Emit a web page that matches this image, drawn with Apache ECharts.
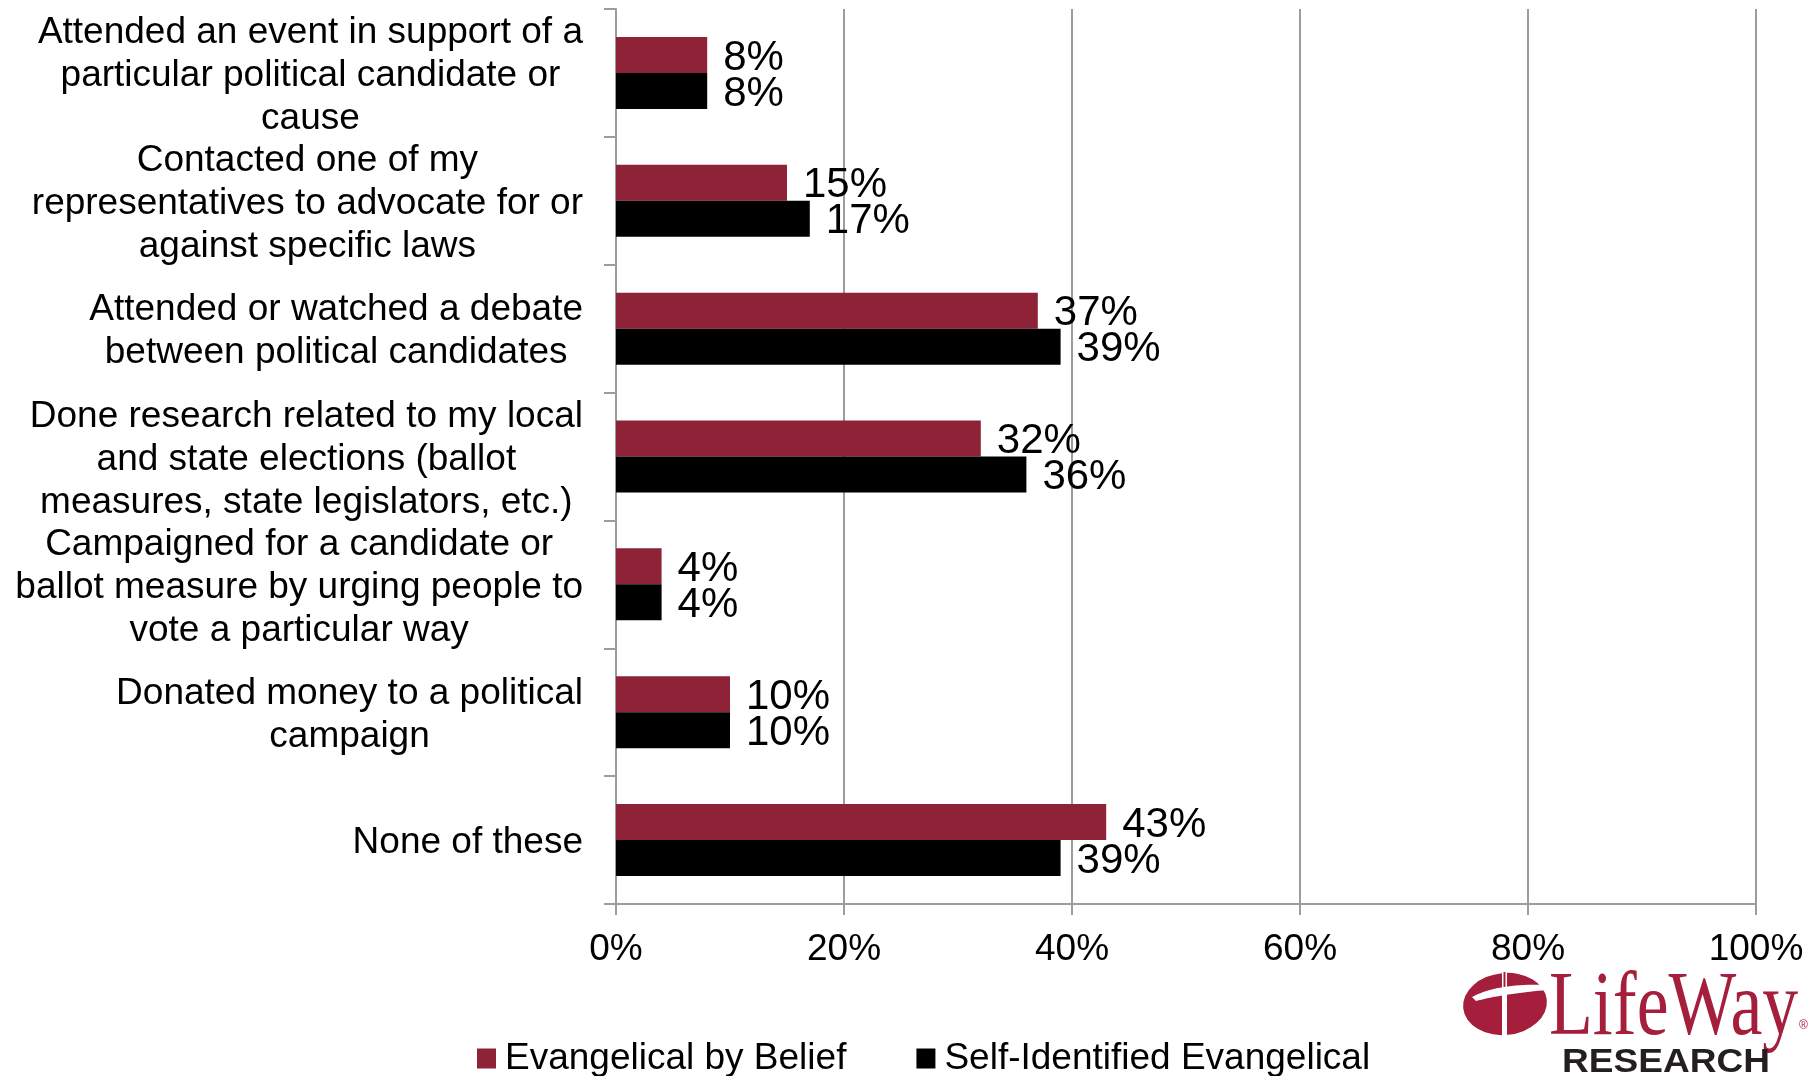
<!DOCTYPE html>
<html>
<head>
<meta charset="utf-8">
<title>Political activities</title>
<script src="https://cdn.jsdelivr.net/npm/echarts@6/dist/echarts.min.js"></script>
<style>
  html, body { margin: 0; padding: 0; background: #fff; }
  #chart { width: 1810px; height: 1076px; }
</style>
</head>
<body>
<div id="chart"></div>
<script>
// Survey items (line breaks as printed on the axis)
const categories = [
  'Attended an event in support of a\nparticular political candidate or\ncause',
  'Contacted one of my\nrepresentatives to advocate for or\nagainst specific laws',
  'Attended or watched a debate\nbetween political candidates',
  'Done research related to my local\nand state elections (ballot\nmeasures, state legislators, etc.)',
  'Campaigned for a candidate or\nballot measure by urging people to\nvote a particular way',
  'Donated money to a political\ncampaign',
  'None of these'
];

const seriesNames = ['Evangelical by Belief', 'Self-Identified Evangelical'];

// Percent of respondents
const byBelief = [8, 15, 37, 32, 4, 10, 43];
const selfIdentified = [8, 17, 39, 36, 4, 10, 39];

const xTicks = [0, 20, 40, 60, 80, 100];

const FONT = '"Liberation Sans", Arial, Helvetica, sans-serif';
const RED = '#8E2237';
const GRID = '#9C9C9C';
const LOGO_RED = '#A51E3B';

// Swoosh of the logo mark, sampled from two quadratic curves
function quad(p0, p1, p2, n) {
  const pts = [];
  for (let i = 0; i <= n; i++) {
    const t = i / n, u = 1 - t;
    pts.push([
      u * u * p0[0] + 2 * u * t * p1[0] + t * t * p2[0],
      u * u * p0[1] + 2 * u * t * p1[1] + t * t * p2[1]
    ]);
  }
  return pts;
}
const swooshTop = quad([1472, 997], [1498, 983], [1547, 985], 20);
const swooshBottom = quad([1547, 990], [1502, 994], [1476, 1001], 20);
const swoosh = swooshTop.concat(swooshBottom);

const valueLabel = {
  show: true, position: 'right', distance: 16, offset: [0, 3],
  fontSize: 42, color: '#000', fontFamily: FONT,
  formatter: p => p.value + '%'
};

const chart = echarts.init(document.getElementById('chart'), null, { renderer: 'canvas' });

chart.setOption({
  animation: false,
  backgroundColor: '#fff',
  textStyle: { fontFamily: FONT },
  grid: { left: 616, right: 54, top: 9, bottom: 172, containLabel: false },
  legend: {
    data: seriesNames,
    left: 477,
    top: 1040,
    padding: 0,
    icon: 'rect',
    itemWidth: 19,
    itemHeight: 20,
    itemGap: 70,
    textStyle: { fontSize: 37, color: '#000', fontFamily: FONT, padding: [0, 0, 0, 4] }
  },
  xAxis: {
    type: 'value',
    min: xTicks[0],
    max: xTicks[xTicks.length - 1],
    interval: xTicks[1] - xTicks[0],
    axisLine: { show: true, lineStyle: { color: GRID, width: 2 } },
    axisTick: { show: true, length: 11, lineStyle: { color: GRID, width: 2 } },
    splitLine: { show: true, lineStyle: { color: GRID, width: 2 } },
    axisLabel: {
      fontSize: 37, color: '#000', fontFamily: FONT, margin: 27,
      formatter: v => v + '%'
    }
  },
  yAxis: {
    type: 'category',
    data: categories,
    inverse: true,
    axisLine: { show: true, lineStyle: { color: GRID, width: 2 } },
    axisTick: { show: true, length: 12, lineStyle: { color: GRID, width: 2 } },
    splitLine: { show: false },
    axisLabel: {
      margin: 33,
      align: 'right',
      color: '#000',
      padding: [6, 0, 0, 0],
      formatter: v => v.split('\n').map(l => '{c|' + l + '}').join('\n'),
      rich: {
        c: { align: 'center', fontSize: 37, lineHeight: 43, color: '#000', fontFamily: FONT }
      }
    }
  },
  series: [
    {
      name: seriesNames[0],
      type: 'bar',
      data: byBelief,
      barWidth: 36,
      barGap: '0%',
      itemStyle: { color: RED },
      label: valueLabel
    },
    {
      name: seriesNames[1],
      type: 'bar',
      data: selfIdentified,
      barWidth: 36,
      barGap: '0%',
      itemStyle: { color: '#000' },
      label: valueLabel
    }
  ],
  graphic: [
    {
      type: 'group',
      children: [
        // oval mark
        {
          type: 'circle',
          x: 1505, y: 1004,
          scaleX: 42 / 31, scaleY: 1,
          rotation: 0.1,
          shape: { cx: 0, cy: 0, r: 31 },
          style: { fill: LOGO_RED }
        },
        // cross stem
        {
          type: 'rect',
          shape: { x: 1502, y: 972, width: 5, height: 64 },
          style: { fill: '#fff' }
        },
        {
          type: 'rect',
          shape: { x: 1503.5, y: 972, width: 2, height: 18 },
          style: { fill: LOGO_RED }
        },
        // swoosh
        {
          type: 'polygon',
          shape: { points: swoosh },
          style: { fill: '#fff' }
        },
        // word mark
        {
          type: 'text',
          x: 1549, y: 1010,
          scaleX: 0.78,
          style: {
            text: 'LifeWay',
            font: '92px "Liberation Serif", "Times New Roman", serif',
            fill: LOGO_RED,
            textAlign: 'left', textVerticalAlign: 'middle',
            align: 'left', verticalAlign: 'middle'
          }
        },
        {
          type: 'text',
          x: 1799, y: 1026,
          style: {
            text: '\u00AE',
            font: '12px "Liberation Sans", Arial, sans-serif',
            fill: LOGO_RED,
            textAlign: 'left', textVerticalAlign: 'middle',
            align: 'left', verticalAlign: 'middle'
          }
        },
        {
          type: 'text',
          x: 1562, y: 1063,
          scaleX: 1.09,
          style: {
            text: 'RESEARCH',
            font: 'bold 34px "Liberation Sans", Arial, sans-serif',
            fill: '#231F20',
            textAlign: 'left', textVerticalAlign: 'middle',
            align: 'left', verticalAlign: 'middle'
          }
        }
      ]
    }
  ]
});
</script>
</body>
</html>
